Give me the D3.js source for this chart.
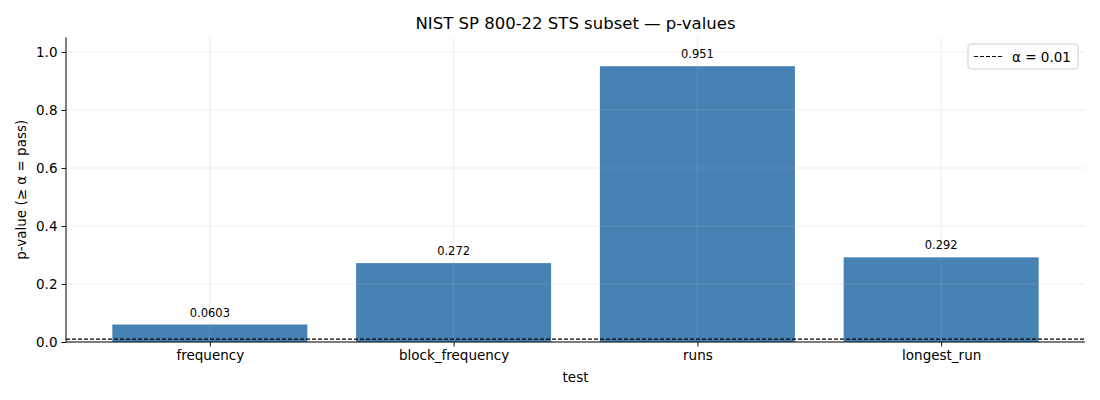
<!DOCTYPE html>
<html>
<head>
<meta charset="utf-8">
<script src="https://cdn.jsdelivr.net/npm/d3@7"></script>
<style>
  body { margin: 0; background: #fff; }
  svg { font-family: "DejaVu Sans", sans-serif; }
</style>
</head>
<body>
<div id="chart"></div>
<script>
// data
const tests = ['frequency', 'block_frequency', 'runs', 'longest_run'];
const pValues = [0.0603, 0.272, 0.951, 0.292];
const valueLabels = ['0.0603', '0.272', '0.951', '0.292'];
const yTicks = [0.0, 0.2, 0.4, 0.6, 0.8, 1.0];
const alpha = 0.01;

const width = 1100, height = 400;
const margin = {left: 66, right: 15, top: 37.5, bottom: 58};

const svg = d3.select('#chart').append('svg')
    .attr('width', width)
    .attr('height', height);

// scales (matplotlib-like: bar width 0.8, 5% margins)
const x = d3.scaleLinear()
    .domain([-0.59, tests.length - 1 + 0.59])
    .range([margin.left, width - margin.right]);
const y = d3.scaleLinear()
    .domain([0, 1.05])
    .range([height - margin.bottom, margin.top]);

const barW = x(0.8) - x(0);

// bars
svg.append('g').selectAll('rect')
    .data(pValues)
    .join('rect')
    .attr('x', (d, i) => x(i) - barW / 2)
    .attr('y', d => y(d))
    .attr('width', barW)
    .attr('height', d => y(0) - y(d))
    .attr('fill', '#4682b4');

// grid on top of bars
const grid = svg.append('g').attr('stroke', '#b0b0b0').attr('stroke-opacity', 0.3).attr('stroke-width', 0.8);
grid.selectAll('line.h')
    .data(yTicks)
    .join('line')
    .attr('x1', x.range()[0]).attr('x2', x.range()[1])
    .attr('y1', d => y(d)).attr('y2', d => y(d));
grid.selectAll('line.v')
    .data(tests)
    .join('line')
    .attr('x1', (d, i) => x(i)).attr('x2', (d, i) => x(i))
    .attr('y1', y.range()[0]).attr('y2', y.range()[1]);

// alpha line
svg.append('line')
    .attr('x1', x.range()[0]).attr('x2', x.range()[1])
    .attr('y1', y(alpha)).attr('y2', y(alpha))
    .attr('stroke', '#000')
    .attr('stroke-width', 1.1)
    .attr('stroke-dasharray', '4,2');

// value labels
svg.append('g').selectAll('text')
    .data(pValues)
    .join('text')
    .attr('x', (d, i) => x(i))
    .attr('y', d => y(d) - 8)
    .attr('text-anchor', 'middle')
    .attr('font-size', 11.5)
    .attr('fill', '#000')
    .text((d, i) => valueLabels[i]);

// axes
const xAxis = svg.append('g')
    .attr('transform', `translate(0,${y(0)})`)
    .call(d3.axisBottom(x).tickValues(d3.range(tests.length)).tickFormat(i => tests[i]).tickSize(4.5).tickPadding(4));
xAxis.select('.domain').attr('d', `M${x.range()[0]},0H${x.range()[1]}`);

const yAxis = svg.append('g')
    .attr('transform', `translate(${x.range()[0]},0)`)
    .call(d3.axisLeft(y).tickValues(yTicks).tickFormat(d3.format('.1f')).tickSize(4.5).tickPadding(4));
yAxis.select('.domain').attr('d', `M0,${y.range()[0]}V${y.range()[1]}`);

svg.selectAll('.tick text').attr('font-size', 13.5).attr('font-family', '"DejaVu Sans", sans-serif').attr('fill', '#000');
svg.selectAll('.tick line').attr('stroke', '#000').attr('stroke-width', 0.9);
svg.selectAll('.domain').attr('stroke', '#000').attr('stroke-width', 1);

// axis titles
svg.append('text')
    .attr('x', (x.range()[0] + x.range()[1]) / 2)
    .attr('y', 382)
    .attr('text-anchor', 'middle')
    .attr('font-size', 13.5)
    .text('test');
svg.append('text')
    .attr('transform', `translate(26,${(y.range()[0] + y.range()[1]) / 2}) rotate(-90)`)
    .attr('text-anchor', 'middle')
    .attr('font-size', 13.5)
    .text('p-value (≥ α = pass)');

// title
svg.append('text')
    .attr('x', (x.range()[0] + x.range()[1]) / 2)
    .attr('y', 29)
    .attr('text-anchor', 'middle')
    .attr('font-size', 16.5)
    .text('NIST SP 800-22 STS subset — p-values');

// legend
const legend = svg.append('g').attr('transform', 'translate(968,44)');
legend.append('rect')
    .attr('width', 110).attr('height', 25)
    .attr('rx', 3)
    .attr('fill', '#fff').attr('fill-opacity', 0.8)
    .attr('stroke', '#ccc');
legend.append('line')
    .attr('x1', 6).attr('x2', 34).attr('y1', 12.5).attr('y2', 12.5)
    .attr('stroke', '#000').attr('stroke-width', 1.1).attr('stroke-dasharray', '4,2');
legend.append('text')
    .attr('x', 44).attr('y', 17.5)
    .attr('font-size', 13.5)
    .text('α = 0.01');
</script>
</body>
</html>
